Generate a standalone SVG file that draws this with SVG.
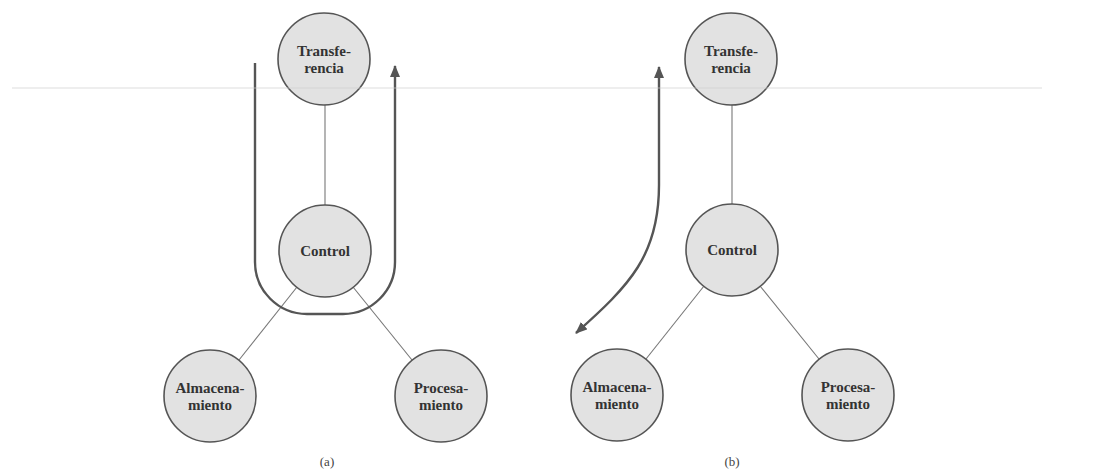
<svg xmlns="http://www.w3.org/2000/svg" width="1105" height="476" viewBox="0 0 1105 476">
<style>
.node circle{fill:#e2e2e2;stroke:#555;stroke-width:1.6}
.node text,.lbl{font-family:"Liberation Serif","Times New Roman",serif;font-weight:bold;font-size:15px;fill:#333;text-anchor:middle}
.lbl{font-weight:normal;font-size:13px;fill:#444}
.edge{stroke:#777;stroke-width:1.1;fill:none}
.flow{stroke:#555;stroke-width:2.4;fill:none}
</style>
<defs>
<marker id="ah" markerUnits="userSpaceOnUse" markerWidth="14" markerHeight="12" refX="11" refY="5" orient="auto-start-reverse">
<path d="M0,0 L12,5 L0,10 Z" fill="#555"/>
</marker>
</defs>
<rect width="1105" height="476" fill="#fff"/>
<g id="connectors">
<line class="edge" x1="325" y1="105" x2="325" y2="205"/>
<line class="edge" x1="297" y1="287" x2="239" y2="360"/>
<line class="edge" x1="353" y1="287" x2="412" y2="360"/>
<line class="edge" x1="732" y1="105" x2="732" y2="204"/>
<line class="edge" x1="704" y1="286" x2="646" y2="359"/>
<line class="edge" x1="760" y1="286" x2="819" y2="359"/>
<path class="flow" d="M255,63 V262 A52,52 0 0 0 307,314 H343 A52,52 0 0 0 395,262 V66" marker-end="url(#ah)"/>
<path class="flow" d="M659,67 V185 C659,255 630,285 576,333" marker-start="url(#ah)" marker-end="url(#ah)"/>
</g>
<g id="a-transferencia" class="node"><circle cx="324" cy="59" r="46"/><text x="324" y="56">Transfe-</text><text x="324" y="73">rencia</text></g>
<g id="a-control" class="node"><circle cx="325" cy="251" r="46"/><text x="325" y="256">Control</text></g>
<g id="a-almacenamiento" class="node"><circle cx="210" cy="396" r="46"/><text x="210" y="393">Almacena-</text><text x="210" y="410">miento</text></g>
<g id="a-procesamiento" class="node"><circle cx="441" cy="396" r="46"/><text x="441" y="393">Procesa-</text><text x="441" y="410">miento</text></g>
<g id="b-transferencia" class="node"><circle cx="731" cy="59" r="46"/><text x="731" y="56">Transfe-</text><text x="731" y="73">rencia</text></g>
<g id="b-control" class="node"><circle cx="732" cy="250" r="46"/><text x="732" y="255">Control</text></g>
<g id="b-almacenamiento" class="node"><circle cx="617" cy="395" r="46"/><text x="617" y="392">Almacena-</text><text x="617" y="409">miento</text></g>
<g id="b-procesamiento" class="node"><circle cx="848" cy="395" r="46"/><text x="848" y="392">Procesa-</text><text x="848" y="409">miento</text></g>
<line x1="12" y1="88" x2="1042" y2="88" stroke="#ccc" stroke-width="1.5" stroke-opacity="0.45"/>
<text class="lbl" x="327" y="466">(a)</text>
<text class="lbl" x="732" y="466">(b)</text>
</svg>
